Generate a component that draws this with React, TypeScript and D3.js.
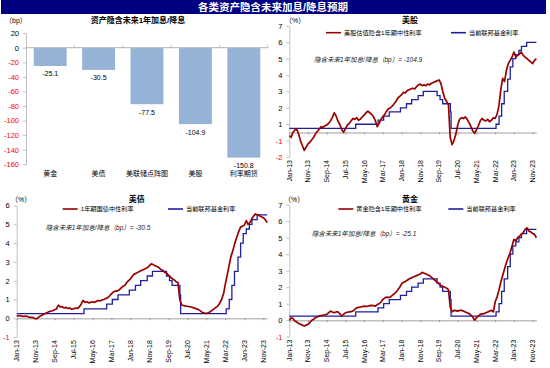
import React, { useEffect, useRef } from "react";
import * as d3 from "d3";

// ---- data ----
const barCategories = ["黄金", "美债", "美联储点阵图", "美股", "利率期货"];
const barValues = [-25.1, -30.5, -77.5, -104.9, -150.8];
const barTicks = [20, 0, -20, -40, -60, -80, -100, -120, -140, -160];

const dateTickLabels = ["Jan-13", "Nov-13", "Sep-14", "Jul-15", "May-16", "Mar-17", "Jan-18",
  "Nov-18", "Sep-19", "Jul-20", "May-21", "Mar-22", "Jan-23", "Nov-23"];

const seriesStart = "2013-01";

// 美股估值隐含1年期中性利率, monthly from Jan-13
const stockRate = [
  -0.2, -0.3, 0.0, 0.15, 0.2, -0.1, -0.5, -0.8, -1.1, -0.9, -0.7, -0.6,
  -0.45, -0.3, -0.1, 0.05, 0.2, 0.35, 0.3, 0.4, 0.45, 0.55, 0.7, 0.9,
  1.2, 1.0, 0.7, 0.5, 0.2, 0.0, 0.2, 0.45, 0.55, 0.7, 0.85, 0.8,
  0.9, 0.75, 0.8, 0.95, 1.05, 1.2, 1.3, 1.2, 1.1, 0.95, 0.7, 0.35,
  0.55, 0.8, 0.95, 1.1, 1.3, 1.45, 1.5, 1.6, 1.75, 1.9, 2.1, 2.2,
  2.3, 2.45, 2.4, 2.55, 2.6, 2.65, 2.7, 2.65, 2.8, 2.9, 2.95, 2.85,
  2.9, 2.85, 2.95, 2.9, 3.0, 3.05, 3.1, 3.15, 3.2, 3.0, 2.5, 2.1,
  1.9, 1.7, -0.3, -0.75, -0.5, -0.1, 0.45, 0.8, 0.9, 0.85, 0.95, 0.8,
  0.6, 0.35, 0.1, -0.05, 0.15, 0.4, 0.7, 0.85, 0.75, 0.7, 0.8, 0.65,
  0.75, 0.9, 0.85, 1.1, 1.6, 2.6, 3.3, 3.1, 3.8, 4.2, 4.4, 4.6,
  4.9, 4.6, 4.7, 4.8, 4.9, 4.7, 4.6, 4.5, 4.4, 4.3, 4.2, 4.4, 4.5,
];

// 1年期国债中性利率
const bondRate = [
  0.15, 0.12, 0.15, 0.1, 0.1, 0.12, 0.08, 0.05, 0.05, 0.02, -0.02, 0.0,
  0.1, 0.15, 0.2, 0.25, 0.3, 0.35, 0.38, 0.4, 0.45, 0.5, 0.7, 0.6,
  0.62, 0.55, 0.58, 0.52, 0.55, 0.48, 0.5, 0.55, 0.52, 0.6, 0.75, 0.95,
  0.85, 0.88, 0.82, 0.85, 0.88, 0.85, 0.9, 0.95, 0.92, 0.98, 1.0, 1.05,
  1.1, 1.2, 1.3, 1.4, 1.45, 1.45, 1.5, 1.6, 1.7, 1.75, 1.9, 2.0,
  2.1, 2.25, 2.35, 2.4, 2.45, 2.5, 2.55, 2.6, 2.65, 2.7, 2.8, 2.9,
  2.85, 2.8, 2.75, 2.7, 2.6, 2.55, 2.45, 2.4, 2.3, 2.2, 2.1, 2.05,
  1.95, 1.9, 1.0, 0.7, 0.68, 0.65, 0.64, 0.62, 0.6, 0.57, 0.53, 0.5,
  0.45, 0.38, 0.3, 0.28, 0.25, 0.3, 0.35, 0.42, 0.5, 0.58, 0.65, 0.8,
  1.0, 1.3, 1.8, 2.3, 2.8, 3.3, 3.6, 4.0, 4.3, 4.6, 4.85, 4.9,
  4.95, 5.2, 5.0, 5.1, 5.3, 5.45, 5.55, 5.5, 5.45, 5.4, 5.35, 5.25, 5.1,
];

// 黄金隐含1年期中性利率
const goldRate = [
  0.0, 0.15, 0.1, -0.05, -0.1, -0.2, -0.25, -0.3, -0.35, -0.3, -0.25, -0.15,
  0.0, 0.05, 0.15, 0.2, 0.25, 0.28, 0.3, 0.32, 0.35, 0.45, 0.55, 0.5,
  0.45, 0.5, 0.5, 0.4, 0.25, 0.35, 0.45, 0.48, 0.5, 0.52, 0.55, 0.65,
  0.75, 0.78, 0.8, 0.82, 0.85, 0.83, 0.85, 0.88, 0.9, 0.88, 0.85, 0.95,
  1.0, 1.1, 1.25, 1.35, 1.4, 1.38, 1.4, 1.5, 1.6, 1.7, 1.85, 2.0,
  2.2, 2.3, 2.35, 2.42, 2.5, 2.55, 2.6, 2.65, 2.7, 2.75, 2.8, 2.9,
  2.85, 2.8, 2.75, 2.7, 2.6, 2.5, 2.4, 2.3, 2.2, 2.1, 2.05, 2.0,
  1.95, 1.85, 0.8, 0.5, 0.6, 0.58, 0.55, 0.6, 0.6, 0.55, 0.5, 0.45,
  0.4, 0.3, 0.2, 0.0, 0.15, 0.25, 0.35, 0.38, 0.4, 0.45, 0.5, 0.55,
  0.6, 0.5, 1.1, 1.4, 1.8, 2.3, 2.7, 3.1, 3.5, 3.8, 4.1, 4.5,
  4.9, 4.8, 5.0, 5.1, 5.2, 5.3, 5.5, 5.6, 5.4, 5.35, 5.25, 5.2, 5.0,
];

// 当前联邦基金利率 (upper bound), step changes
const fedDates = ["2013-01-01", "2015-12-16", "2016-12-14", "2017-03-15", "2017-06-14", "2017-12-13",
  "2018-03-21", "2018-06-13", "2018-09-26", "2018-12-19", "2019-08-01", "2019-09-18", "2019-10-30",
  "2020-03-03", "2020-03-15", "2022-03-16", "2022-05-04", "2022-06-15", "2022-07-27", "2022-09-21",
  "2022-11-02", "2022-12-14", "2023-02-01", "2023-03-22", "2023-05-03", "2023-07-26", "2024-01-01"];
const fedValues = [0.25, 0.5, 0.75, 1.0, 1.25, 1.5, 1.75, 2.0, 2.25, 2.5, 2.25, 2.0, 1.75,
  1.25, 0.25, 0.5, 1.0, 1.75, 2.5, 3.25, 4.0, 4.5, 4.75, 5.0, 5.25, 5.5, 5.5];

const FONT = "'Liberation Sans', Arial, 'Noto Sans CJK SC', sans-serif";
const RED = "#990000";
const BLUE = "#1F1FA0";
const AXIS = "#BFBFBF";
const NEG = "#FF0000";

const roundLabel = (v: number) => String(Math.sign(v) * Math.round(Math.abs(v)));

const linePanels = [
  {
    title: "美股", titleX: 410, titleY: 23, unitX: 285, unitY: 23,
    x0: 289.3, x1: 536.4, yDomain: [-1.5, 6.5], yRange: [157, 25.9],
    ticks: d3.range(-1.5, 7, 1),
    red: stockRate, redLabel: "美股估值隐含1年期中性利率",
    legRedX: 326, legBlueX: 451, legY: 32.7,
    note: "隐含未来1年加息/降息（bp）= -104.9", noteX: 314, noteY: 61.5,
  },
  {
    title: "美债", titleX: 136.7, titleY: 202, unitX: 11, unitY: 202,
    x0: 16.7, x1: 267.1, yDomain: [-1, 6], yRange: [337.1, 205.5],
    ticks: d3.range(-1, 7, 1),
    red: bondRate, redLabel: "1年期国债中性利率",
    legRedX: 62.7, legBlueX: 168, legY: 209,
    note: "隐含未来1年加息/降息（bp）= -30.5", noteX: 45.7, noteY: 229.5,
  },
  {
    title: "黄金", titleX: 410, titleY: 202, unitX: 284, unitY: 202,
    x0: 289.3, x1: 536.4, yDomain: [-1, 7], yRange: [336.7, 204.7],
    ticks: d3.range(-1, 8, 1),
    red: goldRate, redLabel: "黄金隐含1年期中性利率",
    legRedX: 338.3, legBlueX: 448.3, legY: 209,
    note: "隐含未来1年加息/降息（bp）= -25.1", noteX: 311.7, noteY: 235.5,
  },
];

function styleAxis(g: any) {
  g.select(".domain").attr("stroke", AXIS);
  g.selectAll(".tick line").attr("stroke", AXIS);
  g.selectAll(".tick text")
    .attr("font-family", FONT)
    .attr("font-size", 7.5)
    .attr("fill", (d: number) => (d < 0 ? NEG : "#000"));
}

function drawBarPanel(svg: any) {
  const g = svg.append("g");
  const x = d3.scaleBand().domain(barCategories).range([26, 268]).paddingInner(0.32).paddingOuter(0.16);
  const y = d3.scaleLinear().domain([-160, 20]).range([164.3, 33.1]);

  g.append("text").attr("x", 138).attr("y", 23).attr("text-anchor", "middle")
    .attr("font-family", FONT).attr("font-size", 8).attr("font-weight", "bold")
    .text("资产隐含未来1年加息/降息");
  g.append("text").attr("x", 5).attr("y", 23).attr("font-family", FONT).attr("font-size", 7)
    .text("（bp）");

  g.selectAll("rect.bar").data(barValues).join("rect").attr("class", "bar")
    .attr("x", (d: number, i: number) => x(barCategories[i]))
    .attr("y", y(0))
    .attr("width", x.bandwidth())
    .attr("height", (d: number) => y(d) - y(0))
    .attr("fill", "#95B3D7");

  g.selectAll("text.val").data(barValues).join("text").attr("class", "val")
    .attr("x", (d: number, i: number) => x(barCategories[i])! + x.bandwidth() / 2)
    .attr("y", (d: number) => y(d) + 10.5)
    .attr("text-anchor", "middle").attr("font-family", FONT).attr("font-size", 7)
    .text((d: number) => d.toFixed(1));

  const ya = g.append("g").attr("transform", "translate(26,0)")
    .call(d3.axisLeft(y).tickValues(barTicks).tickSize(3).tickSizeOuter(0).tickPadding(4)
      .tickFormat((d: any) => String(d)));
  styleAxis(ya);

  // zero line with category separators
  g.append("line").attr("x1", 26).attr("x2", 268).attr("y1", y(0)).attr("y2", y(0))
    .attr("stroke", AXIS).attr("stroke-width", 1.3);
  g.selectAll("line.sep").data(d3.range(1, barCategories.length + 1)).join("line").attr("class", "sep")
    .attr("x1", (k: number) => 26 + k * x.step()).attr("x2", (k: number) => 26 + k * x.step())
    .attr("y1", y(0)).attr("y2", y(0) - 2.5).attr("stroke", AXIS);

  g.selectAll("text.cat").data(barCategories).join("text").attr("class", "cat")
    .attr("x", (d: string) => x(d)! + x.bandwidth() / 2).attr("y", 176)
    .attr("text-anchor", "middle").attr("font-family", FONT).attr("font-size", 7)
    .text((d: string) => d);
}

function drawLinePanel(svg: any, p: any) {
  const g = svg.append("g");
  const parseMonth = d3.timeParse("%Y-%m");
  const parseDay = d3.timeParse("%Y-%m-%d");
  const parseTick = d3.timeParse("%b-%y");
  const start = parseMonth(seriesStart)!;
  const x = d3.scaleTime().domain([start, parseDay("2024-01-01")!]).range([p.x0, p.x1]);
  const y = d3.scaleLinear().domain(p.yDomain).range(p.yRange);
  const tickDates = dateTickLabels.map((s) => parseTick(s)!);

  g.append("text").attr("x", p.titleX).attr("y", p.titleY).attr("text-anchor", "middle")
    .attr("font-family", FONT).attr("font-size", 8).attr("font-weight", "bold").text(p.title);
  g.append("text").attr("x", p.unitX).attr("y", p.unitY).attr("font-family", FONT).attr("font-size", 7)
    .text("（%）");

  const ya = g.append("g").attr("transform", `translate(${p.x0},0)`)
    .call(d3.axisLeft(y).tickValues(p.ticks).tickSize(3).tickSizeOuter(0).tickPadding(4)
      .tickFormat((d: any) => roundLabel(d)));
  styleAxis(ya);

  const xa = g.append("g").attr("transform", `translate(0,${y(0)})`)
    .call(d3.axisBottom(x).tickValues(tickDates).tickSize(2).tickSizeOuter(0).tickFormat(() => ""));
  xa.select(".domain").attr("stroke", AXIS).attr("stroke-width", 1.5);
  xa.selectAll(".tick line").attr("stroke", "#999");

  g.selectAll("text.xl").data(tickDates).join("text").attr("class", "xl")
    .attr("transform", (d: Date) => `translate(${x(d)},${p.yRange[0] + 3}) rotate(-90)`)
    .attr("text-anchor", "end").attr("dy", "0.35em")
    .attr("font-family", FONT).attr("font-size", 7)
    .text((d: Date, i: number) => dateTickLabels[i]);

  const fed = fedDates.map((s, i) => ({ date: parseDay(s)!, value: fedValues[i] }));
  g.append("path").datum(fed)
    .attr("d", d3.line<any>().x((d) => x(d.date)).y((d) => y(d.value)).curve(d3.curveStepAfter))
    .attr("fill", "none").attr("stroke", BLUE).attr("stroke-width", 1.3);

  g.append("path").datum(p.red)
    .attr("d", d3.line<number>().x((d, i) => x(d3.timeMonth.offset(start, i))).y((d) => y(d)))
    .attr("fill", "none").attr("stroke", RED).attr("stroke-width", 1.7).attr("stroke-linejoin", "round");

  const legend = [
    { x: p.legRedX, color: RED, label: p.redLabel },
    { x: p.legBlueX, color: BLUE, label: "当前联邦基金利率" },
  ];
  legend.forEach((l) => {
    g.append("line").attr("x1", l.x).attr("x2", l.x + 15).attr("y1", p.legY).attr("y2", p.legY)
      .attr("stroke", l.color).attr("stroke-width", 1.6);
    g.append("text").attr("x", l.x + 18).attr("y", p.legY).attr("dy", "0.35em")
      .attr("font-family", FONT).attr("font-size", 6.2).text(l.label);
  });

  g.append("text").attr("x", p.noteX).attr("y", p.noteY).attr("font-family", FONT)
    .attr("font-size", 6.5).attr("font-style", "italic").attr("fill", "#222").text(p.note);
}

export default function App() {
  const ref = useRef<SVGSVGElement>(null);

  useEffect(() => {
    const svg = d3.select(ref.current);
    svg.selectAll("*").remove();

    svg.append("rect").attr("x", 0).attr("y", 0).attr("width", 550).attr("height", 368).attr("fill", "#fff");
    svg.append("rect").attr("x", 1).attr("y", 0).attr("width", 545).attr("height", 14).attr("fill", "#000080");
    svg.append("text").attr("x", 273).attr("y", 11).attr("text-anchor", "middle")
      .attr("font-family", FONT).attr("font-size", 10.5).attr("font-weight", "bold").attr("fill", "#fff")
      .text("各类资产隐含未来加息/降息预期");

    drawBarPanel(svg);
    linePanels.forEach((p) => drawLinePanel(svg, p));
  }, []);

  return (
    <svg ref={ref} width={550} height={368}
      style={{ position: "absolute", left: 0, top: 0, display: "block" }} />
  );
}
